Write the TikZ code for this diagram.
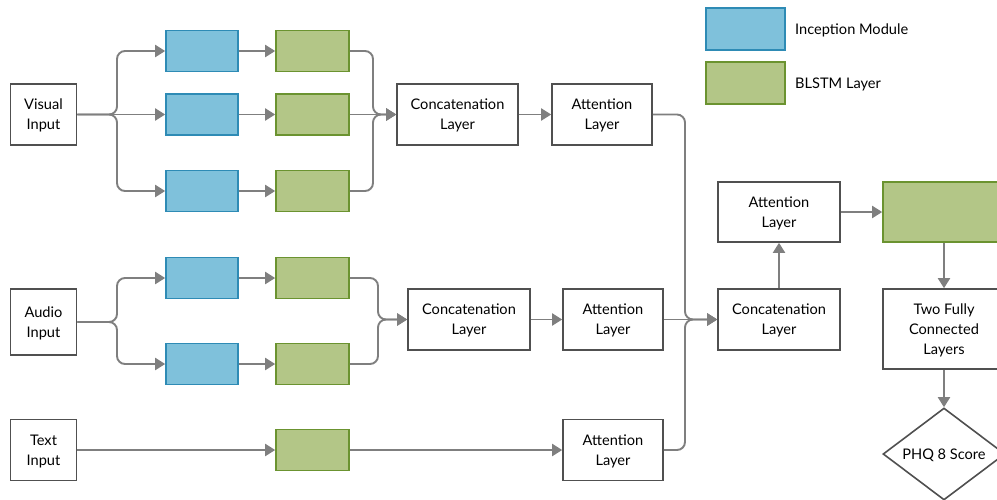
\documentclass[tikz,border=0pt]{standalone}
\usepackage{fontspec}
\setmainfont{Lato}
\usetikzlibrary{arrows.meta,shapes.geometric}
\definecolor{bluefill}{HTML}{7FC1DB}
\definecolor{blueline}{HTML}{2E8BB5}
\definecolor{greenfill}{HTML}{B3C687}
\definecolor{greenline}{HTML}{6B9330}
\definecolor{conncol}{HTML}{7F7F7F}
\definecolor{boxline}{HTML}{505050}
\begin{document}
\begin{tikzpicture}[x=1pt,y=-1pt,
  txtfont/.style={font=\fontsize{14.6}{20}\selectfont},
  box/.style={draw=boxline, line width=1.6pt, fill=white, align=center, txtfont, inner sep=0pt, text depth=0pt},
  inc/.style={draw=blueline, fill=bluefill, line width=1.6pt, minimum width=72pt, minimum height=41pt, inner sep=0pt},
  lstm/.style={draw=greenline, fill=greenfill, line width=1.6pt, minimum width=73pt, minimum height=41pt, inner sep=0pt},
  conn/.style={draw=conncol, line width=1.9pt, -{Triangle[length=10pt,width=12pt]}, rounded corners=8pt}]
\useasboundingbox (0,0) rectangle (997,499);
% inputs
\node[box, minimum width=66pt, minimum height=61pt] (vis) at (43.5,114.5) {Visual\\Input};
\node[box, minimum width=66pt, minimum height=66pt] (aud) at (43.5,322) {Audio\\Input};
\node[box, minimum width=66pt, minimum height=61pt] (txt) at (43.5,450) {Text\\Input};
% visual branch
\node[inc] (vb1) at (202,51) {};
\node[inc] (vb2) at (202,114.5) {};
\node[inc] (vb3) at (202,191) {};
\node[lstm] (vg1) at (312.5,51) {};
\node[lstm] (vg2) at (312.5,114.5) {};
\node[lstm] (vg3) at (312.5,191) {};
% audio branch
\node[inc] (ab1) at (202,278) {};
\node[inc] (ab2) at (202,364) {};
\node[lstm] (ag1) at (312.5,278) {};
\node[lstm] (ag2) at (312.5,364) {};
% text branch
\node[lstm] (tg) at (312.5,450) {};
% layers
\node[box, minimum width=121pt, minimum height=61pt] (c1) at (457.5,114.5) {Concatenation\\Layer};
\node[box, minimum width=100pt, minimum height=61pt] (a1) at (602,114.5) {Attention\\Layer};
\node[box, minimum width=122pt, minimum height=61pt] (c2) at (469,319.5) {Concatenation\\Layer};
\node[box, minimum width=100pt, minimum height=61pt] (a2) at (613,319.5) {Attention\\Layer};
\node[box, minimum width=100pt, minimum height=61pt] (a3) at (613,450) {Attention\\Layer};
\node[box, minimum width=122pt, minimum height=61pt] (c3) at (779,319.5) {Concatenation\\Layer};
\node[box, minimum width=122pt, minimum height=60pt] (a4) at (779,212) {Attention\\Layer};
\node[lstm, minimum width=126pt, minimum height=60pt] (bg) at (946,212) {};
\node[box, minimum width=122pt, minimum height=80pt] (fc) at (944,329) {Two Fully\\Connected\\Layers};
\node[box, diamond, aspect=1.33, minimum width=122pt, minimum height=92pt] (phq) at (944,454) {PHQ 8 Score};
% legend
\node[inc, minimum width=79pt, minimum height=42pt] (legi) at (745.5,29) {};
\node[lstm, minimum width=79pt, minimum height=42pt] (legl) at (745.5,83) {};
\node[txtfont, anchor=west, inner sep=0pt] (legit) at (795,30.5) {Inception Module};
\node[txtfont, anchor=west, inner sep=0pt] (leglt) at (795,84.5) {BLSTM Layer};
% split / merge points
\coordinate (vs) at (117,114.5);
\coordinate (vm) at (373,114.5);
\coordinate (as) at (117,322);
\coordinate (am) at (378,319.5);
\coordinate (rm) at (685,319.5);
% visual connectors
\draw[conn] (vis.east) -- (vs) |- (vb1.west);
\draw[conn] (vis.east) -- (vb2.west);
\draw[conn] (vis.east) -- (vs) |- (vb3.west);
\draw[conn] (vb1.east) -- (vg1.west);
\draw[conn] (vb2.east) -- (vg2.west);
\draw[conn] (vb3.east) -- (vg3.west);
\draw[conn] (vg1.east) -| (vm) -- (c1.west);
\draw[conn] (vg2.east) -- (c1.west);
\draw[conn] (vg3.east) -| (vm) -- (c1.west);
\draw[conn] (c1.east) -- (a1.west);
% audio connectors
\draw[conn] (aud.east) -- (as) |- (ab1.west);
\draw[conn] (aud.east) -- (as) |- (ab2.west);
\draw[conn] (ab1.east) -- (ag1.west);
\draw[conn] (ab2.east) -- (ag2.west);
\draw[conn] (ag1.east) -| (am) -- (c2.west);
\draw[conn] (ag2.east) -| (am) -- (c2.west);
\draw[conn] (c2.east) -- (a2.west);
% text connectors
\draw[conn] (txt.east) -- (tg.west);
\draw[conn] (tg.east) -- (a3.west);
% fusion
\draw[conn] (a1.east) -| (rm) -- (c3.west);
\draw[conn] (a2.east) -- (c3.west);
\draw[conn] (a3.east) -| (rm) -- (c3.west);
\draw[conn] (c3.north) -- (a4.south);
\draw[conn] (a4.east) -- (bg.west);
\draw[conn] (fc.north |- bg.south) -- (fc.north);
\draw[conn] (fc.south) -- (phq.north);
\end{tikzpicture}
\end{document}
